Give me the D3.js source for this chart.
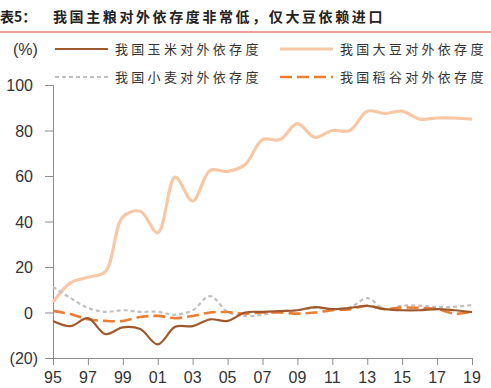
<!DOCTYPE html>
<html>
<head>
<meta charset="utf-8">
<script src="https://cdn.jsdelivr.net/npm/d3@7"></script>
<style>
  body { margin: 0; background: #fff; }
  svg { display: block; }
  .tick-label { font-family: "Liberation Sans", Arial, sans-serif; font-size: 16px; fill: #333; }
  .cjk { font-family: "Noto Sans CJK SC", sans-serif; }
</style>
</head>
<body>
<svg width="491" height="388"></svg>
<script>
// chart data
var years = [1995, 1996, 1997, 1998, 1999, 2000, 2001, 2002, 2003, 2004, 2005, 2006,
             2007, 2008, 2009, 2010, 2011, 2012, 2013, 2014, 2015, 2016, 2017, 2018, 2019];
var corn    = [-3.7, -6, -2.5, -9.5, -6.5, -7.3, -14, -6.3, -6, -3, -3.7, 0,
               0.3, 0.6, 1, 2.4, 1.5, 2, 2.9, 1.5, 1, 1, 1.5, 1, 0.2];
var soybean = [4.5, 13, 15.5, 18, 42, 44.5, 35, 59.5, 49, 62.5, 62, 65,
               76, 76, 83, 77, 80, 80, 88.5, 87.5, 88.5, 85, 85.5, 85.5, 85];
var wheat   = [11.2, 6.4, 2, 0.3, 1, 0.3, 0.3, -1, 1, 7.2, 0.3, -1.5,
               -1, 0.6, 1, 2, 1.5, 2.2, 6.3, 1.5, 3, 3, 2.5, 2.5, 3.3];
var rice    = [0.7, -0.7, -3, -3.7, -3.7, -2, -1.5, -2.5, -1.5, 0, 0.2, -0.5,
               0, 0, -0.5, 0, 1, 1.5, 3, 1.5, 2.2, 2, 1.5, -0.5, 0.3];
var yTicks = [-20, 0, 20, 40, 60, 80, 100];
var xTickYears = [1995, 1997, 1999, 2001, 2003, 2005, 2007, 2009, 2011, 2013, 2015, 2017, 2019];

var titleText = '表5：';
var titleMain = '我国主粮对外依存度非常低，仅大豆依赖进口';

var seriesList = [
    {name: '我国玉米对外依存度', values: corn,    color: '#9e5a2e', width: 2.2, dash: null},
    {name: '我国大豆对外依存度', values: soybean, color: '#f8c8a6', width: 3.2, dash: null},
    {name: '我国小麦对外依存度', values: wheat,   color: '#c0c0c0', width: 2.2, dash: '4,3'},
    {name: '我国稻谷对外依存度', values: rice,    color: '#ed7d31', width: 2.6, dash: '12,5'}
];

var svg = d3.select('svg');

// title + red rule
svg.append('text').attr('class', 'cjk')
    .attr('x', 0).attr('y', 22)
    .style('font-size', '14px').style('font-weight', 'bold').style('fill', '#222')
    .text(titleText);
svg.append('text').attr('class', 'cjk')
    .attr('x', 53).attr('y', 22)
    .style('font-size', '14px').style('font-weight', 'bold').style('fill', '#222')
    .style('letter-spacing', '2.6px')
    .text(titleMain);
svg.append('line')
    .attr('x1', 0).attr('x2', 491).attr('y1', 32).attr('y2', 32)
    .style('stroke', '#eba39c').style('stroke-width', 2);

// scales
var x = d3.scaleLinear().domain([1995, 2019]).range([53, 472]);
var y = d3.scaleLinear().domain([-20, 100]).range([358, 85]);

// axes
var yAxis = svg.append('g')
    .attr('transform', 'translate(53,0)')
    .call(d3.axisLeft(y).tickValues(yTicks).tickSize(8).tickFormat(''));
var xAxis = svg.append('g')
    .attr('transform', 'translate(0,358)')
    .call(d3.axisBottom(x).tickValues(xTickYears).tickSize(7).tickFormat(''));
[yAxis, xAxis].forEach(function(a) {
    a.select('.domain').style('stroke', '#8c8c8c');
    a.selectAll('.tick line').style('stroke', '#8c8c8c');
});

svg.selectAll('.ylab')
    .data(yTicks)
    .enter().append('text')
    .attr('class', 'ylab tick-label')
    .attr('x', function(d) { return d < 0 ? 38 : 33; })
    .attr('y', function(d) { return y(d) + 6; })
    .attr('text-anchor', 'end')
    .text(function(d) { return d < 0 ? '(' + Math.abs(d) + ')' : d; });

svg.selectAll('.xlab')
    .data(xTickYears)
    .enter().append('text')
    .attr('class', 'xlab tick-label')
    .attr('x', function(d) { return x(d); })
    .attr('y', 383)
    .attr('text-anchor', 'middle')
    .text(function(d) { return String(d).slice(2); });

// lines
var line = d3.line()
    .x(function(d, i) { return x(years[i]); })
    .y(function(d) { return y(d); })
    .curve(d3.curveCatmullRom.alpha(0.5));

// soybean first so the others sit on top of it like in the source
[1, 2, 3, 0].forEach(function(k) {
    var s = seriesList[k];
    svg.append('path')
        .datum(s.values)
        .attr('d', line)
        .style('fill', 'none')
        .style('stroke', s.color)
        .style('stroke-width', s.width)
        .style('stroke-dasharray', s.dash)
        .style('stroke-linejoin', 'round');
});

// legend
svg.append('text').attr('class', 'tick-label')
    .attr('x', 13).attr('y', 55).text('(%)');

var legendPos = [[55, 49], [280, 49], [55, 77], [280, 77]];
seriesList.forEach(function(s, i) {
    var p = legendPos[i];
    svg.append('line')
        .attr('x1', p[0]).attr('x2', p[0] + 53)
        .attr('y1', p[1]).attr('y2', p[1])
        .style('stroke', s.color)
        .style('stroke-width', s.width)
        .style('stroke-dasharray', s.dash);
    svg.append('text').attr('class', 'cjk')
        .attr('x', p[0] + 60).attr('y', p[1] + 5)
        .style('font-size', '13px').style('fill', '#333')
        .style('letter-spacing', '3.3px')
        .text(s.name);
});
</script>
</body>
</html>
